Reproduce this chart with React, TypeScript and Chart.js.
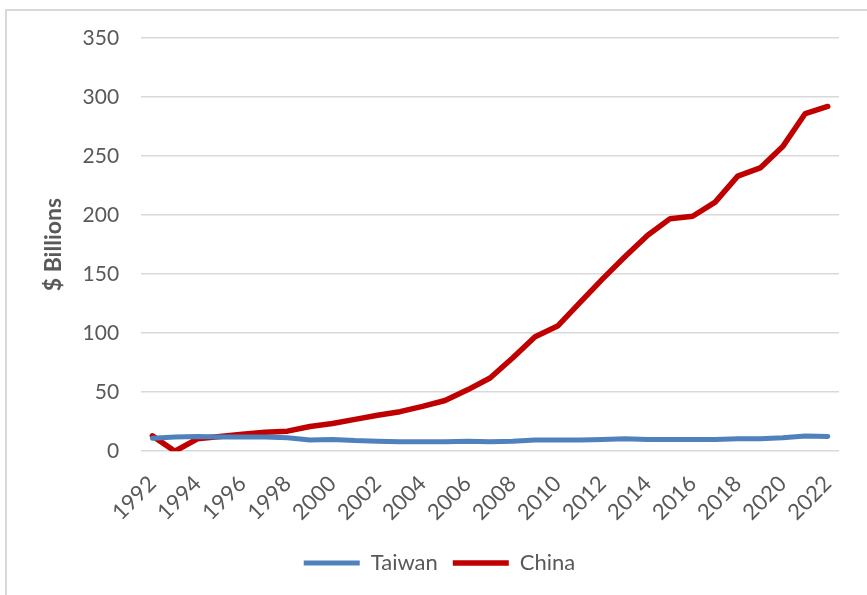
import React, { useEffect, useRef } from "react";
import { Chart, registerables } from "chart.js";

Chart.register(...registerables);

const years = [
  "1992", "1993", "1994", "1995", "1996", "1997", "1998", "1999", "2000", "2001",
  "2002", "2003", "2004", "2005", "2006", "2007", "2008", "2009", "2010", "2011",
  "2012", "2013", "2014", "2015", "2016", "2017", "2018", "2019", "2020", "2021", "2022",
];

const taiwan = [
  11, 12, 12.5, 12, 12, 12, 11.5, 9.5, 10, 9,
  8.5, 8, 8, 8, 8.5, 8, 8.5, 9.5, 9.5, 9.5,
  10, 10.5, 10, 10, 10, 10, 10.5, 10.5, 11.5, 13, 12.5,
];

const china = [
  13, 0, 10.5, 12.5, 14.5, 16, 17, 21, 23.5, 27,
  30.5, 33.5, 38, 43, 52, 62, 79, 97, 106, 126,
  146, 165, 183, 197, 199, 211, 233, 240, 258, 286, 292,
];

const yTicks = [0, 50, 100, 150, 200, 250, 300, 350];

const FONT = "Lato, 'Open Sans', sans-serif";
const GRAY = "#595959";

export default function App() {
  const ref = useRef<HTMLCanvasElement | null>(null);

  useEffect(() => {
    if (!ref.current) return;
    const chart = new Chart(ref.current, {
      type: "line",
      data: {
        labels: years,
        datasets: [
          {
            label: "Taiwan",
            data: taiwan,
            borderColor: "#4F81BD",
            backgroundColor: "#4F81BD",
            borderWidth: 5,
            pointRadius: 0,
            borderCapStyle: "round",
            borderJoinStyle: "round",
            tension: 0,
          },
          {
            label: "China",
            data: china,
            borderColor: "#C00000",
            backgroundColor: "#C00000",
            borderWidth: 5.5,
            pointRadius: 0,
            borderCapStyle: "round",
            borderJoinStyle: "round",
            tension: 0,
          },
        ],
      },
      options: {
        animation: false,
        responsive: false,
        maintainAspectRatio: false,
        layout: { padding: { left: 40, right: 28, top: 38, bottom: 11 } },
        plugins: {
          tooltip: { enabled: false },
          legend: {
            position: "bottom",
            labels: {
              usePointStyle: true,
              pointStyle: "line",
              pointStyleWidth: 56,
              boxHeight: 5,
              color: GRAY,
              font: { family: FONT, size: 22 },
              padding: 15,
            },
          },
        },
        scales: {
          x: {
            offset: true,
            grid: { display: false },
            border: { display: false },
            ticks: {
              autoSkip: false,
              minRotation: 45,
              maxRotation: 45,
              color: GRAY,
              font: { family: FONT, size: 22 },
              padding: 11.5,
              callback: (_v: any, i: number) => (i % 2 === 0 ? years[i] : ""),
            },
          },
          y: {
            min: 0,
            max: 350,
            afterBuildTicks: (axis: any) => {
              axis.ticks = yTicks.map((v) => ({ value: v }));
            },
            grid: { color: "#D9D9D9", lineWidth: 1.5, drawTicks: false },
            border: { display: false },
            ticks: {
              color: GRAY,
              font: { family: FONT, size: 21 },
              padding: 22,
            },
            title: {
              display: true,
              text: "$ Billions",
              color: GRAY,
              font: { family: FONT, size: 23, weight: "bold" },
              padding: { top: 0, bottom: -7 },
            },
          },
        },
      },
    });
    return () => chart.destroy();
  }, []);

  return (
    <div style={{ position: "fixed", left: 0, top: 0, width: 867, height: 595, background: "#fff", overflow: "hidden" }}>
      <div
        style={{
          position: "absolute",
          left: 5,
          top: 9,
          width: 900,
          height: 700,
          borderLeft: "2px solid #D9D9D9",
          borderTop: "2px solid #D9D9D9",
        }}
      />
      <canvas ref={ref} width={867} height={595} style={{ position: "absolute", left: 0, top: 0 }} />
    </div>
  );
}
